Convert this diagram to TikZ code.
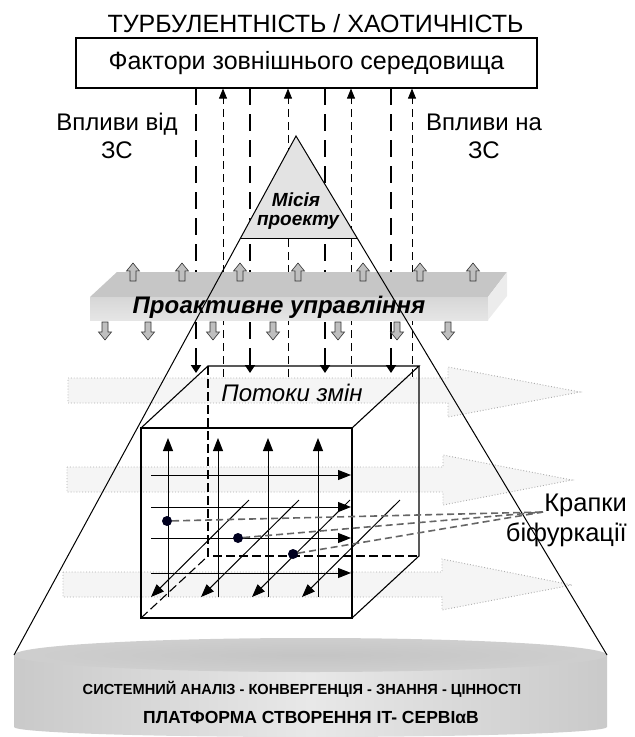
\documentclass[tikz,border=0pt]{standalone}
\usepackage{fontspec}
\setmainfont{Liberation Sans}
\usetikzlibrary{arrows.meta}
\tikzset{
  uparr/.pic={\draw[fill=gray!50, draw=black!80, line width=0.6pt]
      (-3,9) -- (-3,-1) -- (-6.5,-1) -- (0,-9) -- (6.5,-1) -- (3,-1) -- (3,9) -- cycle;},
  downarr/.pic={\draw[fill=gray!50, draw=black!80, line width=0.6pt]
      (-3,-9) -- (-3,1) -- (-6.5,1) -- (0,9) -- (6.5,1) -- (3,1) -- (3,-9) -- cycle;},
}
\begin{document}
\begin{tikzpicture}[x=1pt,y=-1pt,
  lbl/.style={font=\fontsize{24}{28}\selectfont, align=center, inner sep=0pt},
  bgarrow/.style={draw=gray!65, dotted, line width=0.9pt, fill=gray!8},
  thickdash/.style={line width=2.8pt, dash pattern=on 17pt off 9pt, -{Triangle[width=10pt,length=8pt]}},
  thindash/.style={line width=0.8pt, dash pattern=on 8pt off 5pt, -{Triangle[width=8pt,length=10pt]}},
  edge/.style={line width=1.1pt},
  hid/.style={line width=1.1pt, dash pattern=on 9pt off 4pt},
  flow/.style={line width=1pt, -{Triangle[width=10pt,length=13pt]}},
  bifline/.style={draw=black!60, line width=1.6pt, dash pattern=on 7pt off 4pt},
  dot/.style={circle, fill=black!80!blue!60!black, inner sep=0pt, minimum size=10pt},
]
\useasboundingbox (0,0) rectangle (635,737);

% background flow arrows
\draw[bgarrow] (68,378) -- (448,378) -- (448,367) -- (580,392) -- (448,417) -- (448,403) -- (68,403) -- cycle;
\draw[bgarrow] (67,467) -- (443,467) -- (443,455) -- (572,480) -- (443,505) -- (443,492) -- (67,492) -- cycle;
\draw[bgarrow] (63,572) -- (442,572) -- (442,559) -- (572,585) -- (442,610) -- (442,597) -- (63,597) -- cycle;

% platform cylinder
\shade[left color=gray!42, right color=gray!42, middle color=gray!18]
  (14,655) -- (14,727) arc[start angle=180, end angle=0, x radius=296.5, y radius=10] -- (607,655) -- cycle;
\shade[inner color=gray!46, outer color=gray!38] (310.5,655) ellipse[x radius=296.5, y radius=17];
\node[font=\bfseries\fontsize{14.6}{17}\selectfont, inner sep=0pt] (sys) at (302,689)
  {СИСТЕМНИЙ АНАЛІЗ - КОНВЕРГЕНЦІЯ - ЗНАННЯ - ЦІННОСТІ};
\node[font=\bfseries\fontsize{17.5}{20}\selectfont, inner sep=0pt] (plat) at (311,717)
  {ПЛАТФОРМА СТВОРЕННЯ IT- СЕРВІαВ};

% title and environment box
\node[lbl, font=\fontsize{25}{29}\selectfont] (title) at (315.5,24) {ТУРБУЛЕНТНІСТЬ / ХАОТИЧНІСТЬ};
\node[draw, line width=1.2pt, minimum width=461pt, minimum height=50pt, inner sep=0pt,
      font=\fontsize{25}{29}\selectfont] (env) at (306.5,63) {Фактори зовнішнього середовища};

\node[lbl] (from) at (117,136) {Впливи від\\ЗС};
\node[lbl] (to) at (484,136) {Впливи на\\ЗС};

% cube corner coordinates
\coordinate (ftl) at (141,428); \coordinate (ftr) at (352,428);
\coordinate (fbl) at (141,618); \coordinate (fbr) at (352,618);
\coordinate (btl) at (208,366); \coordinate (btr) at (419,366);
\coordinate (bbl) at (208,556); \coordinate (bbr) at (419,556);

% influence lines
\foreach \x in {196,250,325,391} {
  \draw[thickdash] (\x,88) -- (\x,373);
}
\foreach \x in {223,288,351,412} {
  \draw[thindash] (\x,377) -- (\x,88.6);
}

% pyramid
\coordinate (apex) at (296,136);
\coordinate (pl) at (14,655);
\coordinate (pr) at (607,655);
\fill[gray!22] (apex) -- (240,238) -- (357,238) -- cycle;
\draw[line width=1pt] (240,238) -- (357,238);
\node[font=\bfseries\itshape\fontsize{19}{22}\selectfont, inner sep=0pt] (mis1) at (296,200) {Місія};
\node[font=\bfseries\itshape\fontsize{19}{22}\selectfont, inner sep=0pt] (mis2) at (298,222) {проекту};

% proactive management slab
\fill[gray!45] (117,272) -- (507,272) -- (488,297) -- (90,297) -- cycle;
\shade[top color=gray!32, bottom color=gray!20] (90,297) rectangle (488,320);
\fill[gray!15] (488,297) -- (507,272) -- (507,296) -- (488,320) -- cycle;
\node[font=\bfseries\itshape\fontsize{24}{28}\selectfont, inner sep=0pt] (pm) at (279,307) {Проактивне управління};
\foreach \x in {133,182,240,298,363,420,473} { \pic at (\x,272) {uparr}; }
\foreach \x in {105,148,213,273,338,397,448} { \pic at (\x,331) {downarr}; }

\draw[line width=1pt] (pl) -- (apex) -- (pr);

% cube
\draw[edge] (ftl) rectangle (fbr);
\draw[edge] (ftl) -- (btl) -- (btr) -- (ftr);
\draw[edge] (btr) -- (bbr) -- (fbr);
\draw[hid] (btl) -- (bbl) -- (bbr);
\draw[hid] (fbl) -- (bbl);
\node[font=\itshape\fontsize{24}{28}\selectfont, inner sep=0pt] (flows) at (292,393) {Потоки змін};

\foreach \x in {168,218,268,318} { \draw[flow] (\x,597) -- (\x,438); }
\foreach \y in {475,507,538,573} { \draw[flow] (151,\y) -- (351,\y); }
\foreach \x in {249,299,350,400} { \draw[flow] (\x,500) -- (\x-98,597); }

% bifurcation points
\coordinate (bif) at (543,512);
\node[dot] (d1) at (167,521) {};
\node[dot] (d2) at (238,538) {};
\node[dot] (d3) at (293,554) {};
\draw[bifline] (d1) -- (bif);
\draw[bifline] (d2) -- (bif);
\draw[bifline] (d3) -- (bif);
\node[lbl, font=\fontsize{25.5}{30}\selectfont, align=right, anchor=north east] (biflbl) at (627,494) {Крапки\\біфуркації};
\end{tikzpicture}
\end{document}
